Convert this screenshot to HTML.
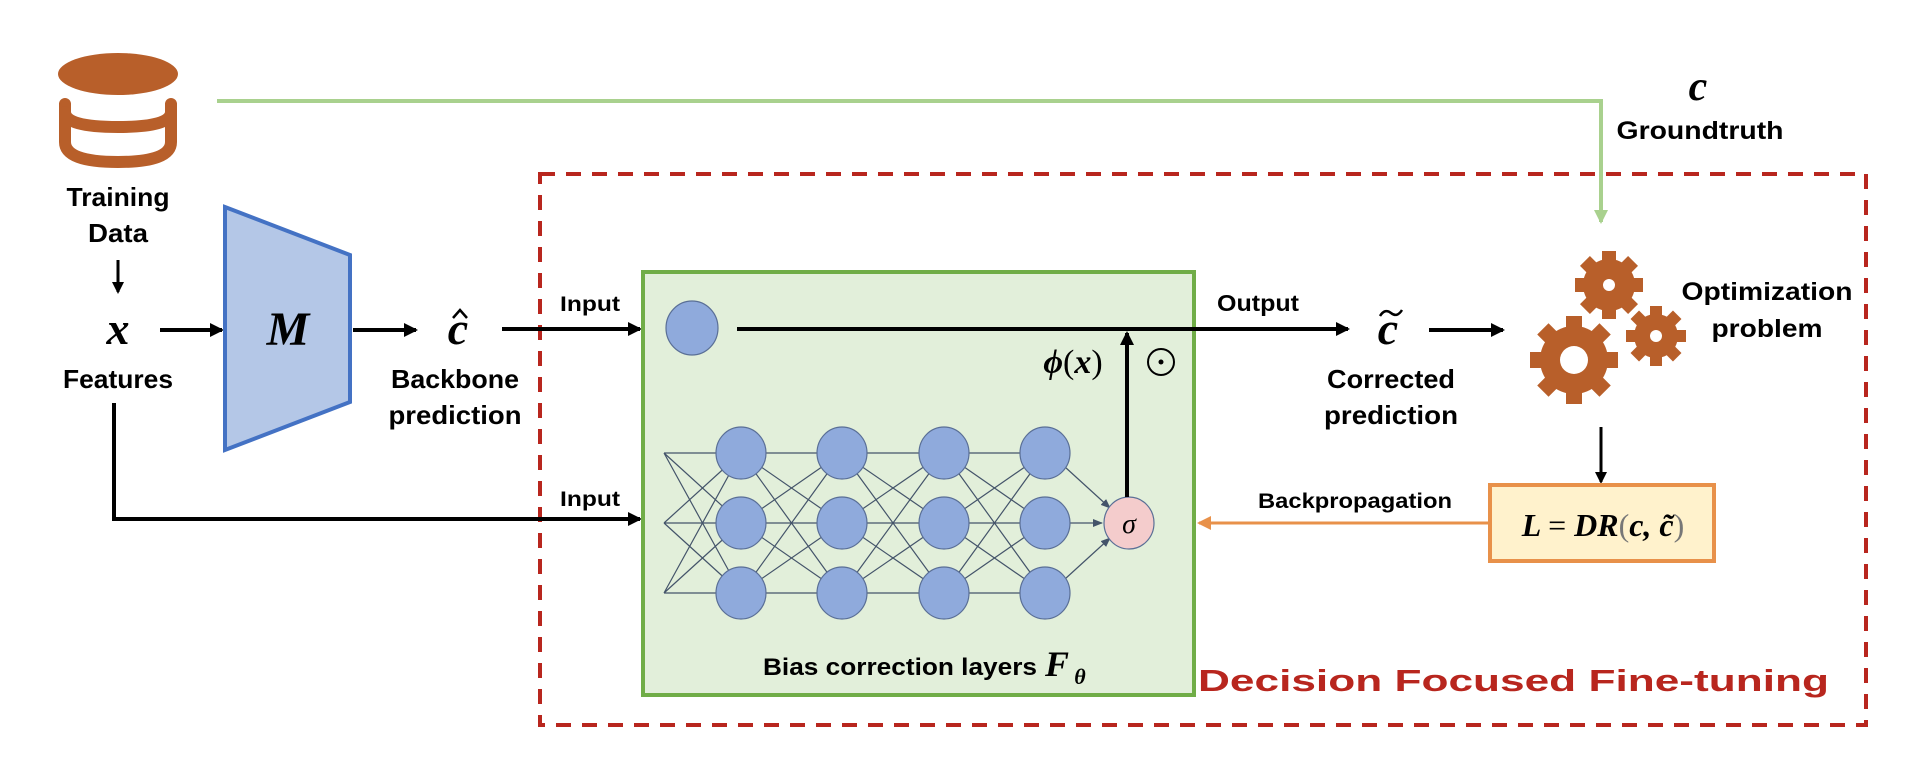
<!DOCTYPE html>
<html><head><meta charset="utf-8"><style>
html,body{margin:0;padding:0;background:#fff;}
svg{display:block;}
.t{font-family:"Liberation Sans",sans-serif;font-weight:bold;fill:#000;}
.m{font-family:"Liberation Serif",serif;font-style:italic;font-weight:bold;fill:#000;}
</style></head><body>
<svg width="1918" height="760" viewBox="0 0 1918 760" xmlns="http://www.w3.org/2000/svg">
<defs>
<marker id="ab" markerWidth="14" markerHeight="14" refX="12" refY="7" orient="auto" markerUnits="userSpaceOnUse"><path d="M0,0 L14,7 L0,14 z" fill="#000"/></marker>
<marker id="as" markerWidth="12" markerHeight="12" refX="10" refY="6" orient="auto" markerUnits="userSpaceOnUse"><path d="M0,0 L12,6 L0,12 z" fill="#000"/></marker>
<marker id="ag" markerWidth="14" markerHeight="14" refX="12" refY="7" orient="auto" markerUnits="userSpaceOnUse"><path d="M0,0 L14,7 L0,14 z" fill="#a9d18e"/></marker>
<marker id="ao" markerWidth="14" markerHeight="14" refX="12" refY="7" orient="auto" markerUnits="userSpaceOnUse"><path d="M0,0 L14,7 L0,14 z" fill="#e8914a"/></marker>
<marker id="an" markerWidth="10" markerHeight="10" refX="9" refY="5" orient="auto" markerUnits="userSpaceOnUse"><path d="M0,1 L10,5 L0,9 z" fill="#44546a"/></marker>
</defs>

<!-- database -->
<ellipse cx="118" cy="74" rx="60" ry="21" fill="#b85f2a"/>
<path d="M65,104 L65,112 Q65,127 118,127 Q171,127 171,112 L171,104" fill="none" stroke="#b85f2a" stroke-width="12" stroke-linecap="round"/>
<path d="M65,112 L65,142 Q65,162 118,162 Q171,162 171,142 L171,112" fill="none" stroke="#b85f2a" stroke-width="12" stroke-linecap="round"/>

<!-- green groundtruth line -->
<polyline points="217,101 1601,101 1601,222" fill="none" stroke="#a9d18e" stroke-width="4" marker-end="url(#ag)"/>
<text class="m" x="1698" y="100" font-size="42" text-anchor="middle">c</text>
<text class="t" x="1700" y="139" font-size="25" text-anchor="middle" textLength="167" lengthAdjust="spacingAndGlyphs">Groundtruth</text>

<!-- red dashed box -->
<rect x="540" y="174" width="1326" height="551" fill="none" stroke="#b8261e" stroke-width="4" stroke-dasharray="15,11"/>
<text x="1829" y="691" font-size="31" text-anchor="end" font-family="Liberation Sans,sans-serif" font-weight="bold" fill="#b8261e" textLength="631" lengthAdjust="spacingAndGlyphs">Decision Focused Fine-tuning</text>

<!-- left labels -->
<text class="t" x="118" y="206" font-size="26" text-anchor="middle" textLength="103" lengthAdjust="spacingAndGlyphs">Training</text>
<text class="t" x="118" y="242" font-size="26" text-anchor="middle" textLength="60" lengthAdjust="spacingAndGlyphs">Data</text>
<line x1="118" y1="260" x2="118" y2="292" stroke="#000" stroke-width="3" marker-end="url(#as)"/>
<text class="m" x="118" y="344" font-size="46" text-anchor="middle">x</text>
<text class="t" x="118" y="388" font-size="26" text-anchor="middle" textLength="110" lengthAdjust="spacingAndGlyphs">Features</text>
<line x1="160" y1="330" x2="222" y2="330" stroke="#000" stroke-width="4" marker-end="url(#ab)"/>

<!-- trapezoid -->
<polygon points="225,207 350,255 350,402 225,450" fill="#b4c7e7" stroke="#4472c4" stroke-width="4"/>
<text class="m" x="288" y="345" font-size="48" text-anchor="middle">M</text>
<line x1="353" y1="330" x2="416" y2="330" stroke="#000" stroke-width="4" marker-end="url(#ab)"/>

<text class="m" x="458" y="344" font-size="46" text-anchor="middle">c</text>
<path d="M453,318 L460,310 L467,318" fill="none" stroke="#000" stroke-width="2.5"/>
<text class="t" x="455" y="388" font-size="26" text-anchor="middle" textLength="128" lengthAdjust="spacingAndGlyphs">Backbone</text>
<text class="t" x="455" y="424" font-size="26" text-anchor="middle" textLength="133" lengthAdjust="spacingAndGlyphs">prediction</text>

<!-- input arrows -->
<line x1="502" y1="329" x2="640" y2="329" stroke="#000" stroke-width="4" marker-end="url(#ab)"/>
<text class="t" x="590" y="311" font-size="21" text-anchor="middle" textLength="60" lengthAdjust="spacingAndGlyphs">Input</text>
<polyline points="114,403 114,519 640,519" fill="none" stroke="#000" stroke-width="4" marker-end="url(#ab)"/>
<text class="t" x="590" y="506" font-size="21" text-anchor="middle" textLength="60" lengthAdjust="spacingAndGlyphs">Input</text>

<!-- green box -->
<rect x="643" y="272" width="551" height="423" fill="#e2efda" stroke="#70ad47" stroke-width="4"/>

<!-- network connections -->
<g stroke="#44546a" stroke-width="1.2" fill="none">
<path d="M664,453L741,453M664,453L741,523M664,453L741,593M664,523L741,453M664,523L741,523M664,523L741,593M664,593L741,453M664,593L741,523M664,593L741,593"/>
<path d="M741,453L842,453M741,453L842,523M741,453L842,593M741,523L842,453M741,523L842,523M741,523L842,593M741,593L842,453M741,593L842,523M741,593L842,593"/>
<path d="M842,453L944,453M842,453L944,523M842,453L944,593M842,523L944,453M842,523L944,523M842,523L944,593M842,593L944,453M842,593L944,523M842,593L944,593"/>
<path d="M944,453L1045,453M944,453L1045,523M944,453L1045,593M944,523L1045,453M944,523L1045,523M944,523L1045,593M944,593L1045,453M944,593L1045,523M944,593L1045,593"/>
<line x1="1065" y1="467" x2="1110" y2="508" marker-end="url(#an)"/>
<line x1="1070" y1="523" x2="1102" y2="523" marker-end="url(#an)"/>
<line x1="1065" y1="579" x2="1110" y2="538" marker-end="url(#an)"/>
</g>
<g fill="#8faadc" stroke="#5a6f96" stroke-width="1.2">
<ellipse cx="692" cy="328" rx="26" ry="27"/>
<ellipse cx="741" cy="453" rx="25" ry="26"/><ellipse cx="741" cy="523" rx="25" ry="26"/><ellipse cx="741" cy="593" rx="25" ry="26"/>
<ellipse cx="842" cy="453" rx="25" ry="26"/><ellipse cx="842" cy="523" rx="25" ry="26"/><ellipse cx="842" cy="593" rx="25" ry="26"/>
<ellipse cx="944" cy="453" rx="25" ry="26"/><ellipse cx="944" cy="523" rx="25" ry="26"/><ellipse cx="944" cy="593" rx="25" ry="26"/>
<ellipse cx="1045" cy="453" rx="25" ry="26"/><ellipse cx="1045" cy="523" rx="25" ry="26"/><ellipse cx="1045" cy="593" rx="25" ry="26"/>
</g>
<ellipse cx="1129" cy="523" rx="25" ry="26" fill="#f4cccc" stroke="#5a6f96" stroke-width="1.2"/>
<text x="1129" y="533" font-size="28" text-anchor="middle" font-family="Liberation Serif,serif" font-style="italic">σ</text>

<!-- output line -->
<line x1="737" y1="329" x2="1348" y2="329" stroke="#000" stroke-width="4" marker-end="url(#ab)"/>
<line x1="1127" y1="497" x2="1127" y2="333" stroke="#000" stroke-width="4" marker-end="url(#ab)"/>
<text x="1073" y="373" font-size="34" text-anchor="middle" font-family="Liberation Serif,serif" font-style="italic" font-weight="bold">ϕ<tspan font-weight="normal" font-style="normal">(</tspan>x<tspan font-weight="normal" font-style="normal">)</tspan></text>
<circle cx="1161" cy="362" r="13" fill="none" stroke="#000" stroke-width="2"/><circle cx="1161" cy="362" r="2.5" fill="#000"/>
<text class="t" x="900" y="675" font-size="24" text-anchor="middle" textLength="274" lengthAdjust="spacingAndGlyphs">Bias correction layers</text>
<text class="m" x="1057" y="676" font-size="36" text-anchor="middle">F</text>
<text class="m" x="1080" y="684" font-size="22" text-anchor="middle">θ</text>

<text class="t" x="1258" y="311" font-size="23" text-anchor="middle" textLength="82" lengthAdjust="spacingAndGlyphs">Output</text>
<text class="m" x="1388" y="344" font-size="46" text-anchor="middle">c</text>
<path d="M1380,316 Q1385,308 1391,313 Q1397,318 1402,310" fill="none" stroke="#000" stroke-width="2.5"/>
<text class="t" x="1391" y="388" font-size="26" text-anchor="middle" textLength="128" lengthAdjust="spacingAndGlyphs">Corrected</text>
<text class="t" x="1391" y="424" font-size="26" text-anchor="middle" textLength="134" lengthAdjust="spacingAndGlyphs">prediction</text>
<line x1="1429" y1="330" x2="1503" y2="330" stroke="#000" stroke-width="4" marker-end="url(#ab)"/>

<!-- gears -->
<g fill="#b85f2a">
<g transform="translate(1609,285)">
<circle r="26"/>
<rect x="-7" y="-34" width="14" height="68"/><rect x="-7" y="-34" width="14" height="68" transform="rotate(45)"/><rect x="-7" y="-34" width="14" height="68" transform="rotate(90)"/><rect x="-7" y="-34" width="14" height="68" transform="rotate(135)"/>
<circle r="6" fill="#fff"/>
</g>
<g transform="translate(1574,360)">
<circle r="34"/>
<rect x="-8" y="-44" width="16" height="88"/><rect x="-8" y="-44" width="16" height="88" transform="rotate(45)"/><rect x="-8" y="-44" width="16" height="88" transform="rotate(90)"/><rect x="-8" y="-44" width="16" height="88" transform="rotate(135)"/>
<circle r="14" fill="#fff"/>
</g>
<g transform="translate(1656,336)">
<circle r="22"/>
<rect x="-6" y="-30" width="12" height="60"/><rect x="-6" y="-30" width="12" height="60" transform="rotate(45)"/><rect x="-6" y="-30" width="12" height="60" transform="rotate(90)"/><rect x="-6" y="-30" width="12" height="60" transform="rotate(135)"/>
<circle r="6" fill="#fff"/>
</g>
</g>
<text class="t" x="1767" y="300" font-size="25" text-anchor="middle" textLength="171" lengthAdjust="spacingAndGlyphs">Optimization</text>
<text class="t" x="1767" y="337" font-size="25" text-anchor="middle" textLength="111" lengthAdjust="spacingAndGlyphs">problem</text>
<line x1="1601" y1="427" x2="1601" y2="482" stroke="#000" stroke-width="3" marker-end="url(#as)"/>

<!-- loss box -->
<rect x="1490" y="485" width="224" height="76" fill="#fff2cc" stroke="#e8914a" stroke-width="4"/>
<text x="1603" y="536" font-size="32" text-anchor="middle" font-family="Liberation Serif,serif" font-weight="bold" font-style="italic">L <tspan font-style="normal" font-weight="normal">=</tspan> DR<tspan font-style="normal" font-weight="normal" fill="#777">(</tspan>c, c̃<tspan font-style="normal" font-weight="normal" fill="#777">)</tspan></text>

<!-- backprop -->
<line x1="1489" y1="523" x2="1199" y2="523" stroke="#e8914a" stroke-width="3" marker-end="url(#ao)"/>
<text class="t" x="1355" y="508" font-size="21" text-anchor="middle" textLength="194" lengthAdjust="spacingAndGlyphs">Backpropagation</text>
</svg>
</body></html>
